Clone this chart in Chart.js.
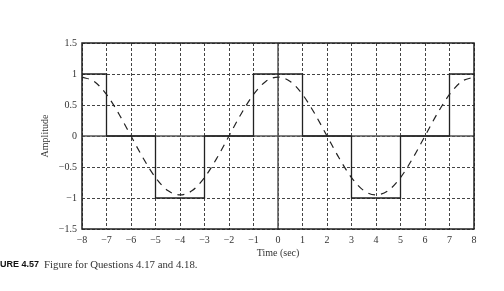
<!DOCTYPE html>
<html lang="en">
<head>
    <meta charset="UTF-8">
    <title>Figure 4.57</title>
    <script src="https://cdn.jsdelivr.net/npm/chart.js@4.4.1/dist/chart.umd.min.js"></script>
    <style>
        html, body { margin: 0; padding: 0; background: #fff; }
        canvas { display: block; }
    </style>
</head>
<body>
    <canvas id="myChart" width="504" height="291"></canvas>

    <script>
        // square wave corners
        var squareX = [-8, -7, -7, -5, -5, -3, -3, -1, -1, 1, 1, 3, 3, 5, 5, 7, 7, 8];
        var squareY = [1, 1, 0, 0, -1, -1, 0, 0, 1, 1, 0, 0, -1, -1, 0, 0, 1, 1];

        // dashed curve, read every 0.5 sec
        var curveX = [-8, -7.5, -7, -6.5, -6, -5.5, -5, -4.5, -4, -3.5, -3, -2.5, -2, -1.5, -1, -0.5,
                      0, 0.5, 1, 1.5, 2, 2.5, 3, 3.5, 4, 4.5, 5, 5.5, 6, 6.5, 7, 7.5, 8];
        var curveY = [0.95, 0.88, 0.67, 0.36, 0, -0.36, -0.67, -0.88, -0.95, -0.88, -0.67, -0.36, 0, 0.36, 0.67, 0.88,
                      0.95, 0.88, 0.67, 0.36, 0, -0.36, -0.67, -0.88, -0.95, -0.88, -0.67, -0.36, 0, 0.36, 0.67, 0.88, 0.95];

        var xTicks = [-8, -7, -6, -5, -4, -3, -2, -1, 0, 1, 2, 3, 4, 5, 6, 7, 8];
        var yTicks = [-1.5, -1, -0.5, 0, 0.5, 1, 1.5];

        function pts(xs, ys) {
            var out = [];
            for (var i = 0; i < xs.length; i++) out.push({ x: xs[i], y: ys[i] });
            return out;
        }

        function fmt(v) {
            return v < 0 ? '\u2212' + String(-v) : String(v);
        }

        var serif = '"Liberation Serif", "DejaVu Serif", serif';

        // zero axes, frame and texts
        var extras = {
            id: 'extras',
            beforeDatasetsDraw: function (chart) {
                var ctx = chart.ctx, x = chart.scales.x, y = chart.scales.y;
                ctx.save();
                ctx.strokeStyle = '#555';
                ctx.lineWidth = 1.5;
                ctx.beginPath();
                ctx.moveTo(x.getPixelForValue(0), y.top);
                ctx.lineTo(x.getPixelForValue(0), y.bottom);
                ctx.moveTo(x.left, y.getPixelForValue(0));
                ctx.lineTo(x.right, y.getPixelForValue(0));
                ctx.stroke();
                ctx.restore();
            },
            afterDraw: function (chart) {
                var ctx = chart.ctx, a = chart.chartArea;
                ctx.save();
                ctx.strokeStyle = '#222';
                ctx.lineWidth = 1.5;
                ctx.strokeRect(a.left, a.top, a.right - a.left, a.bottom - a.top);

                ctx.fillStyle = '#333';
                ctx.textAlign = 'center';
                ctx.textBaseline = 'middle';
                ctx.font = '10px ' + serif;
                ctx.fillText('Time (sec)', (a.left + a.right) / 2, 253);

                ctx.save();
                ctx.translate(45, (a.top + a.bottom) / 2);
                ctx.rotate(-Math.PI / 2);
                ctx.fillText('Amplitude', 0, 0);
                ctx.restore();

                ctx.textAlign = 'left';
                ctx.fillStyle = '#111';
                ctx.font = 'bold 9px "Liberation Sans", Arial, sans-serif';
                ctx.fillText('URE 4.57', 0, 265);
                ctx.font = '10.8px ' + serif;
                ctx.fillStyle = '#333';
                ctx.fillText('Figure for Questions 4.17 and 4.18.', 44, 265);
                ctx.restore();
            }
        };

        var ctx = document.getElementById('myChart').getContext('2d');
        new Chart(ctx, {
            type: 'scatter',
            data: {
                datasets: [
                    {
                        data: pts(squareX, squareY),
                        showLine: true,
                        borderColor: '#222',
                        borderWidth: 1.3,
                        pointRadius: 0,
                        tension: 0
                    },
                    {
                        data: pts(curveX, curveY),
                        showLine: true,
                        borderColor: '#222',
                        borderWidth: 1.2,
                        borderDash: [7, 6],
                        pointRadius: 0,
                        cubicInterpolationMode: 'monotone'
                    }
                ]
            },
            options: {
                responsive: false,
                animation: false,
                layout: { padding: { top: 43, right: 30, bottom: 0, left: 0 } },
                plugins: { legend: { display: false }, tooltip: { enabled: false } },
                scales: {
                    x: {
                        type: 'linear',
                        min: -8,
                        max: 8,
                        afterFit: function (s) { s.height = 62; },
                        afterBuildTicks: function (s) {
                            s.ticks = xTicks.map(function (v) { return { value: v }; });
                        },
                        grid: { color: '#444', lineWidth: 1, drawTicks: false },
                        border: { display: false, dash: [3, 2] },
                        ticks: {
                            padding: 5,
                            autoSkip: false,
                            maxRotation: 0,
                            minRotation: 0,
                            color: '#333',
                            font: { family: serif, size: 10 },
                            callback: function (v) { return fmt(v); }
                        }
                    },
                    y: {
                        min: -1.5,
                        max: 1.5,
                        afterFit: function (s) { s.width = 82; },
                        afterBuildTicks: function (s) {
                            s.ticks = yTicks.map(function (v) { return { value: v }; });
                        },
                        grid: { color: '#444', lineWidth: 1, drawTicks: false },
                        border: { display: false, dash: [3, 2] },
                        ticks: {
                            padding: 5,
                            autoSkip: false,
                            color: '#333',
                            font: { family: serif, size: 10 },
                            callback: function (v) { return fmt(v); }
                        }
                    }
                }
            },
            plugins: [extras]
        });
    </script>
</body>
</html>
